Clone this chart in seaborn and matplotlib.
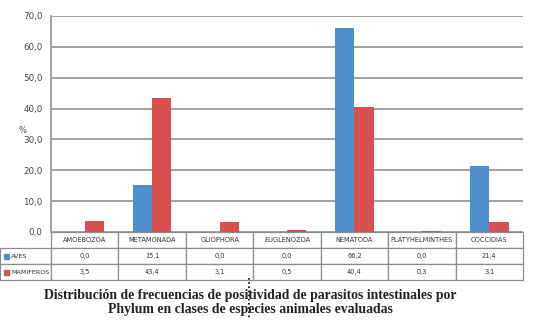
import matplotlib
matplotlib.use("Agg")
import matplotlib.pyplot as plt
import seaborn as sns
import pandas as pd
from matplotlib.lines import Line2D
from matplotlib.patches import Rectangle

sns.set_theme(style="white")
plt.rcParams["font.family"] = ["DejaVu Sans"]

# data
phyla = ["AMOEBOZOA", "METAMONADA", "GLIOPHORA", "EUGLENOZOA", "NEMATODA",
         "PLATYHELMINTHES", "COCCIDIAS"]
aves = [0.0, 15.1, 0.0, 0.0, 66.2, 0.0, 21.4]
mamiferos = [3.5, 43.4, 3.1, 0.5, 40.4, 0.3, 3.1]
series = ["AVES", "MAMIFEROS"]
colors = ["#4f8fcd", "#d9504e"]
yticks = [0, 10, 20, 30, 40, 50, 60, 70]

df = pd.DataFrame({"phylum": phyla * 2,
                   "clase": [series[0]] * len(phyla) + [series[1]] * len(phyla),
                   "valor": aves + mamiferos})

fig = plt.figure(figsize=(5.47, 3.21), dpi=100)
ax = fig.add_axes([51 / 547, 1 - 232 / 321, 472 / 547, 216 / 321])

sns.barplot(data=df, x="phylum", y="valor", hue="clase", order=phyla,
            hue_order=series, palette=colors, width=0.57, saturation=1,
            linewidth=0, ax=ax, legend=False)

ax.set_ylim(0, 70)
ax.set_xlim(-0.5, len(phyla) - 0.5)
ax.set_yticks(yticks)
ax.set_yticklabels([f"{v:.1f}".replace(".", ",") for v in yticks],
                   fontsize=6.3, color="#444444")
ax.tick_params(axis="y", length=0, pad=6)
ax.set_xticks([])
ax.set_xlabel("")
ax.set_ylabel("%", fontsize=6, color="#444444", rotation=0, labelpad=10)
ax.yaxis.set_label_coords(-0.06, 0.45)
ax.grid(axis="y", color="#999999", linewidth=1.3)
ax.set_axisbelow(True)
for s in ["top", "right", "bottom"]:
    ax.spines[s].set_visible(False)
ax.spines["left"].set_color("#999999")
ax.spines["left"].set_linewidth(1.3)

# data table under the plot
fmt = lambda v: f"{v:.1f}".replace(".", ",")
cells = [[""] + phyla,
         [""] + [fmt(v) for v in aves],
         [""] + [fmt(v) for v in mamiferos]]
lab_w = 51 / 472
tbl = ax.table(cellText=cells, cellLoc="center",
               colWidths=[lab_w] + [1 / len(phyla)] * len(phyla),
               bbox=[-lab_w, -48 / 216, 1 + lab_w, 48 / 216])
tbl.auto_set_font_size(False)
for (r, c), cell in tbl.get_celld().items():
    cell.set_edgecolor("#8c8c8c")
    cell.set_linewidth(0.9)
    cell.get_text().set_fontsize(4.8)
    cell.get_text().set_color("#333333")
    if r == 0 and c == 0:
        cell.set_edgecolor("white")

# row labels with their colour keys
for i, (name, col) in enumerate(zip(series, colors)):
    yc = 1 - (256 + 16 * i) / 321
    fig.add_artist(Rectangle((4 / 547, yc - 2.5 / 321), 5 / 547, 5 / 321,
                             transform=fig.transFigure, color=col))
    fig.text(11 / 547, yc, name, ha="left", va="center", fontsize=4.6,
             color="#333333")

fig.text(0.457, 1 - 295 / 321,
         "Distribución de frecuencias de positividad de parasitos intestinales por",
         ha="center", va="center", fontsize=9.9, fontweight="bold",
         family="Liberation Serif", color="#222222")
fig.text(0.457, 1 - 309 / 321,
         "Phylum en clases de especies animales evaluadas",
         ha="center", va="center", fontsize=9.9, fontweight="bold",
         family="Liberation Serif", color="#222222")
fig.add_artist(Line2D([249 / 547, 249 / 547], [1 - 278 / 321, 1 - 318 / 321],
                      transform=fig.transFigure, color="black",
                      linestyle=(0, (1, 1.5)), linewidth=1.2))

fig.savefig("out.png", dpi=100)
